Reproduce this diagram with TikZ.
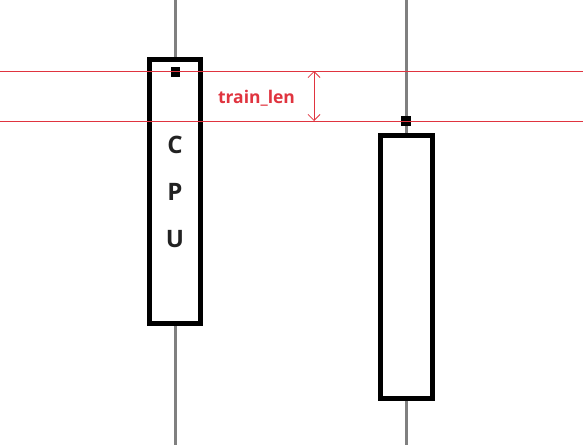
\documentclass[tikz,border=0pt]{standalone}
\usepackage{fontspec}
\usepackage{tikz}
\usetikzlibrary{arrows.meta,positioning}
\newfontfamily\lblfont{Open Sans}
\definecolor{TrackGray}{HTML}{808080}
\definecolor{MarkRed}{HTML}{E0343F}
\definecolor{CpuText}{HTML}{222222}

\begin{document}
\begin{tikzpicture}[x=1pt,y=-1pt,
  unit/.style={draw=black,line width=5pt,fill=white,rectangle,inner sep=0pt},
  tick/.style={fill=black,rectangle,inner sep=0pt,minimum size=9.5pt},
  track/.style={TrackGray,line width=3pt},
  marker/.style={MarkRed,line width=0.9pt}]
  \useasboundingbox (0,0) rectangle (583,445);
  % tracks
  \coordinate (ltop) at (175,0);
  \coordinate (lbot) at (175,445);
  \coordinate (rtop) at (406,0);
  \coordinate (rbot) at (406,445);
  % units
  \node[unit,minimum width=51pt,minimum height=264pt,
        align=center,text=CpuText,font=\lblfont\bfseries\fontsize{24}{47}\selectfont]
        (cpu) at (175,191.5) {C\\P\\U};
  \node[unit,minimum width=52pt,minimum height=263.5pt] (gpu) at (406,267) {};
  \draw[track] (ltop) -- (cpu.north);
  \draw[track] (cpu.south) -- (lbot);
  \draw[track] (rtop) -- (gpu.north);
  \draw[track] (gpu.south) -- (rbot);
  \node[tick] (ltick) at (175.5,72) {};
  \node[tick] (rtick) at (406,121) {};
  % train_len markers
  \coordinate (la) at (0,71);
  \coordinate (lb) at (583,71);
  \coordinate (ma) at (0,121);
  \coordinate (mb) at (583,121);
  \draw[marker] (la) -- (lb);
  \draw[marker] (ma) -- (mb);
  \coordinate (aa) at (314,71);
  \coordinate (ab) at (314,121);
  \draw[MarkRed,line width=0.8pt,{Straight Barb[length=6pt,width=12pt]}-{Straight Barb[length=6pt,width=12pt]}] (aa) -- (ab);
  \node[MarkRed,font=\lblfont\bfseries\fontsize{17.5}{20}\selectfont] (tl) at (256.5,98) {train\_len};
\end{tikzpicture}
\end{document}
